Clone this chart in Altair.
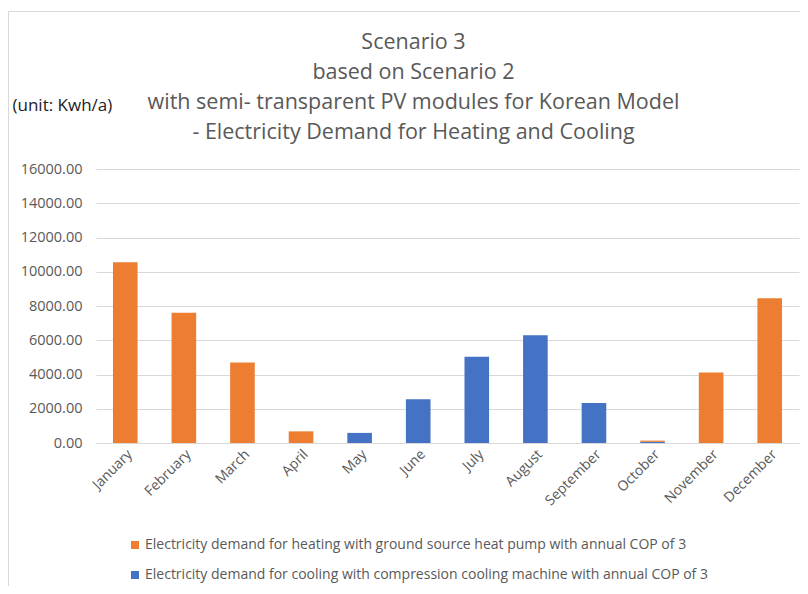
import altair as alt
import pandas as pd

months = ["January", "February", "March", "April", "May", "June", "July",
          "August", "September", "October", "November", "December"]
heating = [10550, 7600, 4700, 680, 0, 0, 0, 0, 0, 70, 4110, 8450]
cooling = [0, 0, 0, 0, 590, 2560, 5040, 6290, 2330, 70, 0, 0]

heat_label = "Electricity demand for heating with ground source heat pump with annual COP of 3"
cool_label = "Electricity demand for cooling with compression cooling machine with annual COP of 3"
title_lines = ["Scenario 3", "based on Scenario 2",
               "with semi- transparent PV modules for Korean Model",
               "- Electricity Demand for Heating and Cooling"]

rows = []
for m, h, c in zip(months, heating, cooling):
    rows.append({"month": m, "series": cool_label, "value": c, "ord": 0})
    rows.append({"month": m, "series": heat_label, "value": h, "ord": 1})
df = pd.DataFrame(rows)

FONT = "Open Sans"
GRAY = "#595959"

bars = alt.Chart(df).mark_bar().encode(
    x=alt.X("month:N", sort=months,
            scale=alt.Scale(paddingInner=0.58, paddingOuter=0.29),
            axis=alt.Axis(title=None, labelAngle=-45, labelFontSize=14, labelColor=GRAY,
                          labelFont=FONT, ticks=False, domainColor="#d9d9d9", labelPadding=4)),
    y=alt.Y("value:Q", stack="zero", scale=alt.Scale(domain=[0, 16000], nice=False),
            axis=alt.Axis(values=list(range(0, 16001, 2000)), format=".2f",
                          labelFontSize=14.5, labelColor=GRAY, labelFont=FONT,
                          ticks=False, domain=False, gridColor="#d9d9d9", labelPadding=14,
                          title="(unit: Kwh/a)", titleAngle=0, titleAlign="left",
                          titleBaseline="middle", titleX=-84, titleY=-64,
                          titleFontSize=17, titleFontWeight="normal", titleColor="#222222",
                          titleFont=FONT)),
    color=alt.Color("series:N",
                    scale=alt.Scale(domain=[heat_label, cool_label], range=["#ED7D31", "#4472C4"]),
                    legend=alt.Legend(title=None, orient="none", legendX=32, legendY=369,
                                      direction="vertical", symbolType="square", symbolSize=64,
                                      symbolStrokeWidth=0, labelFontSize=14, labelColor=GRAY,
                                      labelFont=FONT, rowPadding=16, labelOffset=3, labelLimit=700)),
    order=alt.Order("ord:Q"),
)

frame = alt.Chart(pd.DataFrame({"a": [0]})).mark_rect(fill=None, stroke="#d9d9d9", strokeWidth=1).encode(
    x=alt.value(-87.5), x2=alt.value(760), y=alt.value(-157.5), y2=alt.value(600)
)

chart = alt.layer(frame, bars).properties(
    width=703, height=274,
    padding={"left": 88, "top": 161, "right": 1, "bottom": 143},
    autosize=alt.AutoSizeParams(type="none"),
    title=alt.TitleParams(text=title_lines, fontSize=21.5, lineHeight=30, color=GRAY,
                          font=FONT, fontWeight="normal", anchor="middle", dx=-34,
                          offset=28, dy=160, frame="group"),
).configure_view(stroke=None)

chart.save("out.html", embed_options={"renderer": "svg", "actions": False})
